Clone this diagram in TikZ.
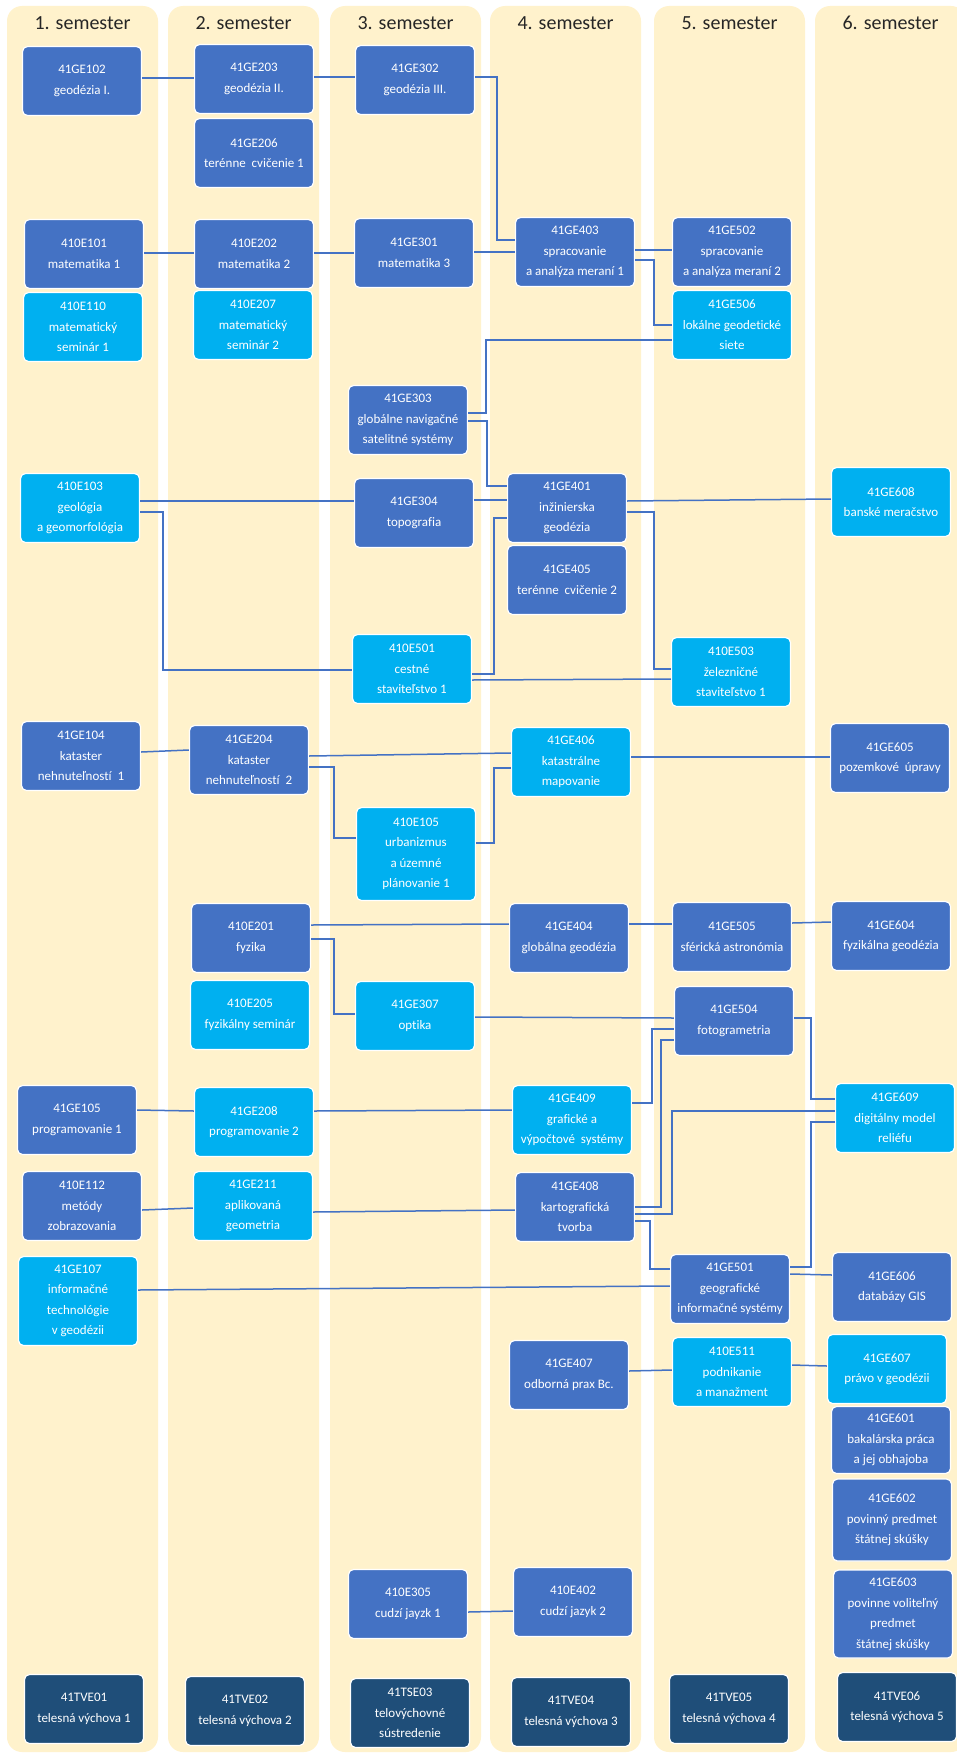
\documentclass[tikz,border=0pt]{standalone}
\usepackage{fontspec}
\setmainfont{Carlito}[Ligatures=CommonOff]
\usepackage{xcolor}
\usepackage{tikz}
\definecolor{piesok}{HTML}{FFF2CC}
\definecolor{modra}{HTML}{4472C4}
\definecolor{azur}{HTML}{00B0F0}
\definecolor{tmava}{HTML}{1F4E79}
\usetikzlibrary{calc}

\begin{document}
\begin{tikzpicture}[x=1pt,y=-1pt,
	stlpec/.style={fill=piesok,rounded corners=15pt},
	hlava/.style={font=\fontsize{20}{24}\selectfont,text=black!85},
	predmet/.style={draw=white,line width=1.2pt,rounded corners=5pt,text=white,minimum width=119pt,minimum height=69pt,inner sep=0pt,align=center,font=\fontsize{13}{20.5}\selectfont},
	pov/.style={predmet,fill=modra},
	vol/.style={predmet,fill=azur},
	tel/.style={predmet,fill=tmava},
	spoj/.style={draw=modra,line width=1.5pt}]
		\useasboundingbox (0,0) rectangle (957,1753);
		\fill[white] (0,0) rectangle (957,1753);
		\begin{scope}
		\clip (0,0) rectangle (957,1753);
		\foreach \x/\n in {7/1,168/2,330/3,490/4,654/5,815/6} {
			\fill[stlpec] (\x,6) rectangle ++(151,1746);
			\node[hlava] at (\x+75.5,23) {\n. semester};
		}
		\end{scope}
		\node[pov] (g102) at (82,81) {41GE102\\geodézia I.};
		\node[pov] (o101) at (84,254) {410E101\\matematika 1};
		\node[vol] (o110) at (83,327) {410E110\\matematický\\seminár 1};
		\node[vol] (o103) at (80,508) {410E103\\geológia\\a geomorfológia};
		\node[pov] (g104) at (81,756) {41GE104\\kataster\\nehnuteľností~ 1};
		\node[pov] (g105) at (77,1120) {41GE105\\programovanie 1};
		\node[pov] (o112) at (82,1206) {410E112\\metódy\\zobrazovania};
		\node[vol,minimum height=89pt] (g107) at (78,1301) {41GE107\\informačné\\technológie\\v geodézii};
		\node[tel] (t01) at (84,1709) {41TVE01\\telesná výchova 1};
		\node[pov] (g203) at (254,79) {41GE203\\geodézia II.};
		\node[pov] (g206) at (254,153) {41GE206\\terénne~ cvičenie 1};
		\node[pov] (o202) at (254,254) {410E202\\matematika 2};
		\node[vol] (o207) at (253,325) {410E207\\matematický\\seminár 2};
		\node[pov] (g204) at (249,760) {41GE204\\kataster\\nehnuteľností~ 2};
		\node[pov] (o201) at (251,938) {410E201\\fyzika};
		\node[vol] (o205) at (250,1015) {410E205\\fyzikálny seminár};
		\node[vol] (g208) at (254,1122) {41GE208\\programovanie 2};
		\node[vol] (g211) at (253,1206) {41GE211\\aplikovaná\\geometria};
		\node[tel] (t02) at (245,1711) {41TVE02\\telesná výchova 2};
		\node[pov] (g302) at (415,80) {41GE302\\geodézia III.};
		\node[pov] (g301) at (414,253) {41GE301\\matematika 3};
		\node[pov] (g303) at (408,420) {41GE303\\globálne navigačné\\satelitné systémy};
		\node[pov] (g304) at (414,513) {41GE304\\topografia};
		\node[vol] (o501) at (412,669) {410E501\\cestné\\staviteľstvo 1};
		\node[vol,minimum height=93pt] (o105) at (416,854) {410E105\\urbanizmus\\a územné\\plánovanie 1};
		\node[vol] (g307) at (415,1016) {41GE307\\optika};
		\node[pov] (o305) at (408,1604) {410E305\\cudzí jayzk 1};
		\node[tel] (s03) at (410,1713) {41TSE03\\telovýchovné\\sústredenie};
		\node[pov] (g403) at (575,252) {41GE403\\spracovanie\\a analýza meraní 1};
		\node[pov] (g401) at (567,508) {41GE401\\inžinierska\\geodézia};
		\node[pov] (g405) at (567,580) {41GE405\\terénne~ cvičenie 2};
		\node[vol] (g406) at (571,762) {41GE406\\katastrálne\\mapovanie};
		\node[pov] (g404) at (569,938) {41GE404\\globálna geodézia};
		\node[vol] (g409) at (572,1120) {41GE409\\grafické a\\výpočtové~ systémy};
		\node[pov] (g408) at (575,1207) {41GE408\\kartografická\\tvorba};
		\node[pov] (g407) at (569,1375) {41GE407\\odborná prax Bc.};
		\node[pov] (o402) at (573,1602) {410E402\\cudzí jazyk 2};
		\node[tel] (t04) at (571,1712) {41TVE04\\telesná výchova 3};
		\node[pov] (g502) at (732,252) {41GE502\\spracovanie\\a analýza meraní 2};
		\node[vol] (g506) at (732,325) {41GE506\\lokálne geodetické\\siete};
		\node[vol] (o503) at (731,672) {410E503\\železničné\\staviteľstvo 1};
		\node[pov] (g505) at (732,937) {41GE505\\sférická astronómia};
		\node[pov] (g504) at (734,1021) {41GE504\\fotogrametria};
		\node[pov] (g501) at (730,1289) {41GE501\\geografické\\informačné systémy};
		\node[vol] (o511) at (732,1372) {410E511\\podnikanie\\a manažment};
		\node[tel] (t05) at (729,1709) {41TVE05\\telesná výchova 4};
		\node[vol] (g608) at (891,502) {41GE608\\banské meračstvo};
		\node[pov] (g605) at (890,758) {41GE605\\pozemkové~ úpravy};
		\node[pov] (g604) at (891,936) {41GE604\\fyzikálna geodézia};
		\node[vol] (g609) at (895,1118) {41GE609\\digitálny model\\reliéfu};
		\node[pov] (g606) at (892,1287) {41GE606\\databázy GIS};
		\node[vol] (g607) at (887,1369) {41GE607\\právo v geodézii};
		\node[pov,minimum height=67pt] (g601) at (891,1440) {41GE601\\bakalárska práca\\a jej obhajoba};
		\node[pov,minimum height=82pt] (g602) at (892,1520) {41GE602\\povinný predmet\\štátnej skúšky};
		\node[pov,minimum height=88pt] (g603) at (893,1614) {41GE603\\povinne voliteľný\\predmet\\štátnej skúšky};
		\node[tel] (t06) at (897,1707) {41TVE06\\telesná výchova 5};
		\draw[spoj] ([yshift=3pt]g102.east) -- ([yshift=1pt]g203.west);
		\draw[spoj] ([yshift=2pt]g203.east) -- ([yshift=3pt]g302.west);
		\draw[spoj] ([yshift=3pt]g302.east) -- ++(22,0) |- ([yshift=12pt]g403.west);
		\draw[spoj] ([yshift=1pt]o101.east) -- ([yshift=1pt]o202.west);
		\draw[spoj] ([yshift=1pt]o202.east) -- (g301.west);
		\draw[spoj] ([yshift=1pt]g301.east) -- (g403.west);
		\draw[spoj] ([yshift=2pt]g403.east) -- ([yshift=2pt]g502.west);
		\draw[spoj] ([yshift=-8pt]g403.east) -- ++(19,0) |- (g506.west);
		\draw[spoj] ([yshift=7pt]g303.east) -- ++(18,0) |- ([yshift=-15pt]g506.west);
		\draw[spoj] ([yshift=-1pt]g303.east) -- ++(19,0) |- ([yshift=22pt]g401.west);
		\draw[spoj] ([yshift=7pt]o103.east) -- ([yshift=12pt]g304.west);
		\draw[spoj] ([yshift=-4pt]o103.east) -- ++(23,0) |- ([yshift=-1pt]o501.west);
		\draw[spoj] ([yshift=13pt]g304.east) -- ([yshift=8pt]g401.west);
		\draw[spoj] ([yshift=7pt]g401.east) -- ([yshift=3pt]g608.west);
		\draw[spoj] ([yshift=-4pt]g401.east) -- ++(27,0) |- ([yshift=3pt]o503.west);
		\draw[spoj] ([yshift=-5pt]o501.east) -- ++(22,0) |- ([yshift=-10pt]g401.west);
		\draw[spoj] ([yshift=-11pt]o501.east) -- ([yshift=-7pt]o503.west);
		\draw[spoj] ([yshift=4pt]g104.east) -- ([yshift=10pt]g204.west);
		\draw[spoj] ([yshift=4pt]g204.east) -- ([yshift=9pt]g406.west);
		\draw[spoj] ([yshift=-7pt]g204.east) -- ++(25,0) |- ([yshift=16pt]o105.west);
		\draw[spoj] ([yshift=11pt]o105.east) -- ++(18,0) |- ([yshift=-6pt]g406.west);
		\draw[spoj] ([yshift=5pt]g406.east) -- ([yshift=1pt]g605.west);
		\draw[spoj] ([yshift=13pt]o201.east) -- ([yshift=14pt]g404.west);
		\draw[spoj] ([yshift=-1pt]o201.east) -- ++(23,0) |- ([yshift=2pt]g307.west);
		\draw[spoj] ([yshift=14pt]g404.east) -- ([yshift=13pt]g505.west);
		\draw[spoj] ([yshift=14pt]g505.east) -- ([yshift=14pt]g604.west);
		\draw[spoj] ([yshift=-1pt]g307.east) -- ([yshift=3pt]g504.west);
		\draw[spoj] ([yshift=17pt]g409.east) -- ++(20,0) |- ([yshift=-8pt]g504.west);
		\draw[spoj] (g408.east) -- ++(26,0) |- ([yshift=-19pt]g504.west);
		\draw[spoj] ([yshift=-7pt]g408.east) -- ++(37,0) |- ([yshift=7pt]g609.west);
		\draw[spoj] ([yshift=-14pt]g408.east) -- ++(15,0) |- ([yshift=20pt]g501.west);
		\draw[spoj] ([yshift=3pt]g504.east) -- ++(17,0) |- ([yshift=19pt]g609.west);
		\draw[spoj] ([yshift=22pt]g501.east) -- ++(21,0) |- ([yshift=-4pt]g609.west);
		\draw[spoj] ([yshift=15pt]g501.east) -- ([yshift=12pt]g606.west);
		\draw[spoj] ([yshift=10pt]g105.east) -- ([yshift=11pt]g208.west);
		\draw[spoj] ([yshift=11pt]g208.east) -- ([yshift=10pt]g409.west);
		\draw[spoj] ([yshift=-4pt]o112.east) -- ([yshift=-2pt]g211.west);
		\draw[spoj] ([yshift=-6pt]g211.east) -- ([yshift=-3pt]g408.west);
		\draw[spoj] ([yshift=11pt]g107.east) -- ([yshift=3pt]g501.west);
		\draw[spoj] ([yshift=4pt]g407.east) -- ([yshift=2pt]o511.west);
		\draw[spoj] ([yshift=7pt]o511.east) -- ([yshift=3pt]g607.west);
		\draw[spoj] ([yshift=-8pt]o305.east) -- ([yshift=-9pt]o402.west);
		\end{tikzpicture}
\end{document}
